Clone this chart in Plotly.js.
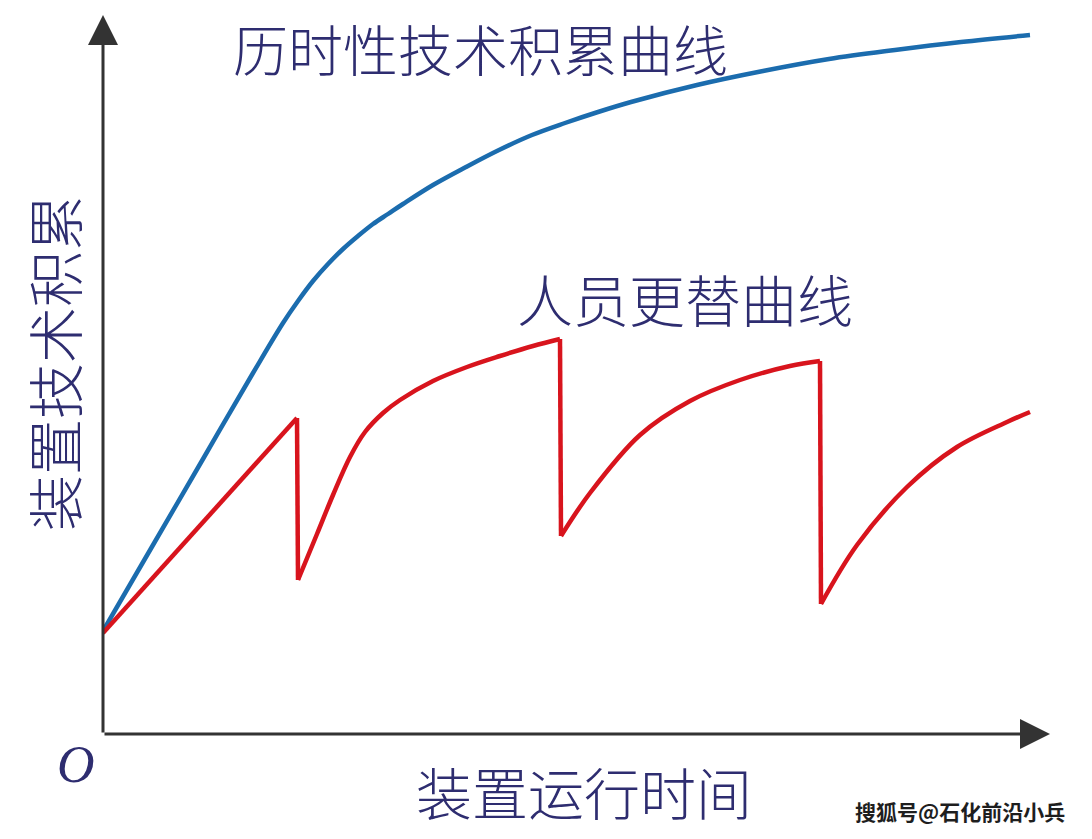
<!DOCTYPE html>
<html>
<head>
<meta charset="utf-8">
<script src="https://cdn.plot.ly/plotly-3.0.1.min.js"></script>
<style>html,body{margin:0;padding:0;background:#fff;}#chart{width:1092px;height:839px;}</style>
</head>
<body>
<div id="chart"></div>
<script>
// 历时性技术积累曲线 (blue)
const blueTime = [0, 50, 100, 150, 180, 195, 210, 225, 240, 255, 270, 285, 300, 330, 363, 396, 429, 462, 495, 528, 594, 660, 726, 792, 858, 927];
const blueAccum = [103, 189, 275, 361, 411, 433, 453, 470, 485, 498, 510, 520, 530, 549, 567, 584, 599, 611, 622, 632, 649, 663, 675, 684, 692, 699];

// 人员更替曲线 (red) — vertical drops are repeated times
const redTime = [0, 194, 195, 214, 230, 247, 262, 280, 297, 330, 364, 397, 430, 457, 458, 487, 537, 587, 637, 687, 717, 718, 754, 804, 854, 904, 927];
const redAccum = [101, 316, 154, 200, 239, 277, 302, 321, 334, 353, 367, 378, 388, 395, 198, 241, 299, 333, 354, 368, 373, 130, 189, 247, 287, 312, 322];

const curveLabels = ["历时性技术积累曲线", "人员更替曲线"];
const xTitle = "装置运行时间";
const yTitle = "装置技术积累";
const originLabel = "O";
const watermark = "搜狐号@石化前沿小兵";

const xMax = 952, yMax = 722;
const L = 103, T = 12, W = 952, H = 722;
const px = x => (x - L) / W;
const py = y => (T + H - y) / H;

const BLUE = '#1b6cae', RED = '#d8141d', NAVY = '#2e2d70', AX = '#333333';
const LW = 4.5;

// split red series into rising segments and vertical drops
const traces = [{
  x: blueTime, y: blueAccum, mode: 'lines',
  line: {color: BLUE, width: LW, shape: 'spline', smoothing: 1},
  hoverinfo: 'skip'
}];
let seg = {x: [redTime[0]], y: [redAccum[0]]};
for (let i = 1; i < redTime.length; i++) {
  if (redTime[i] - redTime[i - 1] <= 1) {
    traces.push({x: seg.x, y: seg.y, mode: 'lines', line: {color: RED, width: LW, shape: 'spline', smoothing: 1}, hoverinfo: 'skip'});
    traces.push({x: [redTime[i - 1], redTime[i]], y: [redAccum[i - 1], redAccum[i]], mode: 'lines', line: {color: RED, width: LW}, hoverinfo: 'skip'});
    seg = {x: [redTime[i]], y: [redAccum[i]]};
  } else {
    seg.x.push(redTime[i]); seg.y.push(redAccum[i]);
  }
}
traces.push({x: seg.x, y: seg.y, mode: 'lines', line: {color: RED, width: LW, shape: 'spline', smoothing: 1}, hoverinfo: 'skip'});

const cjk = '"Noto Sans CJK SC", sans-serif';
const txt = (x, y, text, size, extra) => Object.assign({
  x: px(x), y: py(y), xref: 'paper', yref: 'paper', xanchor: 'center', yanchor: 'middle',
  text: text, showarrow: false, font: {family: cjk, size: size, color: NAVY, weight: 300}
}, extra || {});

const annotations = [
  // axes with arrowheads
  {x: 947, y: 0, ax: 0, ay: 0, xref: 'x', yref: 'y', axref: 'x', ayref: 'y', text: '', showarrow: true,
   arrowhead: 2, arrowsize: 2, arrowwidth: 3, arrowcolor: AX},
  {x: 0, y: 719, ax: 0, ay: 0, xref: 'x', yref: 'y', axref: 'x', ayref: 'y', text: '', showarrow: true,
   arrowhead: 2, arrowsize: 2, arrowwidth: 3, arrowcolor: AX},
  txt(480, 47, curveLabels[0], 55),
  txt(685, 297, curveLabels[1], 56),
  txt(584, 790, xTitle, 56),
  txt(52, 363, yTitle, 56, {textangle: -90}),
  txt(76, 764, '<i>' + originLabel + '</i>', 52, {font: {family: '"Liberation Serif", serif', size: 52, color: NAVY}}),
  txt(960, 811, '<b>' + watermark + '</b>', 21, {font: {family: cjk, size: 21, color: '#1e1e1e'}})
];

const layout = {
  width: 1092, height: 839,
  margin: {l: L, r: 1092 - L - W, t: T, b: 839 - T - H, pad: 0},
  paper_bgcolor: '#ffffff', plot_bgcolor: '#ffffff',
  showlegend: false,
  xaxis: {range: [0, xMax], visible: false, fixedrange: true},
  yaxis: {range: [0, yMax], visible: false, fixedrange: true},
  annotations: annotations
};

Plotly.newPlot('chart', traces, layout, {displayModeBar: false, staticPlot: true});
</script>
</body>
</html>
